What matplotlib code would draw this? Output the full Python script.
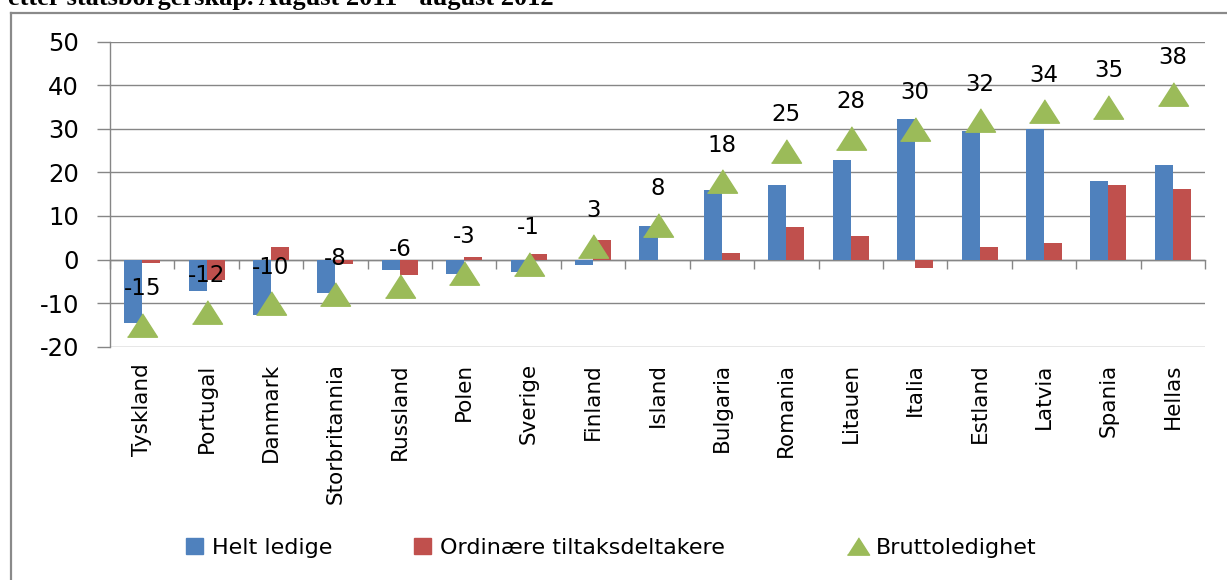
import numpy as np
import matplotlib
matplotlib.use("Agg")
import matplotlib.pyplot as plt
from matplotlib.lines import Line2D
from matplotlib.patches import Patch

# data
land = ["Tyskland", "Portugal", "Danmark", "Storbritannia", "Russland", "Polen",
        "Sverige", "Finland", "Island", "Bulgaria", "Romania", "Litauen",
        "Italia", "Estland", "Latvia", "Spania", "Hellas"]
helt_ledige = [-14.6, -7.2, -12.8, -7.6, -2.5, -3.4, -2.8, -1.3, 7.7, 15.9,
               17.2, 22.8, 32.3, 29.6, 30.0, 18.1, 21.6]
tiltak = [-0.8, -4.8, 2.8, -1.1, -3.5, 0.7, 1.2, 4.6, 0.0, 1.5,
          7.4, 5.4, -1.9, 2.8, 3.7, 17.2, 16.3]
brutto = [-15, -12, -10, -8, -6, -3, -1, 3, 8, 18, 25, 28, 30, 32, 34, 35, 38]
yticks = [-20, -10, 0, 10, 20, 30, 40, 50]
serier = ["Helt ledige", "Ordinære tiltaksdeltakere", "Bruttoledighet"]

blue = "#4F81BD"
red = "#C0504D"
green = "#9BBB59"
grey = "#868686"

plt.rcParams["font.family"] = ["DejaVu Sans"]
plt.rcParams["axes.unicode_minus"] = False

W, H = 1227, 580
fig = plt.figure(figsize=(W / 100, H / 100), dpi=100)

# title from the document above the chart, cut by the crop as in the original
fig.text(8 / W, 1 - 5.3 / H, "etter statsborgerskap. August 2011 - august 2012",
         family="Liberation Serif", weight="bold", fontsize=19,
         ha="left", va="baseline")

# chart frame (only top and left edges are visible)
fig.add_artist(Line2D([11 / W, 1], [1 - 12.5 / H, 1 - 12.5 / H],
                      transform=fig.transFigure, color="#8a8a8a", lw=1.6))
fig.add_artist(Line2D([11 / W, 11 / W], [0, 1 - 12.5 / H],
                      transform=fig.transFigure, color="#8a8a8a", lw=1.6))

ax = fig.add_axes([110 / W, 1 - 346.7 / H, (1205 - 110) / W, (346.7 - 41.7) / H])

x = np.arange(len(land))
w = 0.28
ax.bar(x - w / 2, helt_ledige, w, color=blue, zorder=2)
ax.bar(x + w / 2, tiltak, w, color=red, zorder=2)

tri = [(-1, -0.78), (1, -0.78), (0, 0.78)]
ax.plot(x, brutto, linestyle="none", marker=tri, markersize=21.6,
        color=green, zorder=3)
for xi, v in zip(x, brutto):
    ax.annotate(str(v), (xi, v), xytext=(0, 26), textcoords="offset points",
                ha="center", va="center", fontsize=16.5, zorder=4)

ax.set_xlim(-0.5, len(land) - 0.5)
ax.set_ylim(-20, 50)
ax.set_yticks(yticks)
ax.tick_params(axis="y", direction="out", length=9.4, width=1, color=grey,
               pad=13, labelsize=17.5)
ax.yaxis.grid(True, color=grey, lw=1)
ax.set_axisbelow(True)

ax.set_xticks(x)
ax.set_xticklabels(land, rotation=90, fontsize=15.5)
ax.tick_params(axis="x", length=0, pad=12)

for s in ["top", "right", "bottom"]:
    ax.spines[s].set_visible(False)
ax.spines["left"].set_color(grey)
ax.spines["left"].set_linewidth(1)

# zero line with category separators
zero = ax.secondary_xaxis(20 / 70)
zero.set_xticks(np.arange(len(land) + 1) - 0.5)
zero.set_xticklabels([])
zero.tick_params(direction="out", length=6.5, width=1, color=grey)
zero.spines["bottom"].set_color(grey)
zero.spines["bottom"].set_linewidth(1)

# legend entries placed where the original has them
handles = [Patch(color=blue), Patch(color=red),
           Line2D([], [], linestyle="none", marker=tri, markersize=16, color=green)]
starts = [186, 414, 850]
for h, lab, x0 in zip(handles, serier, starts):
    fig.legend([h], [lab], loc="center left", bbox_to_anchor=(x0 / W, 1 - 548 / H),
               frameon=False, fontsize=16, handlelength=0.75, handleheight=0.75,
               handletextpad=0.4, borderpad=0, borderaxespad=0)

fig.savefig("out.png", dpi=100)
